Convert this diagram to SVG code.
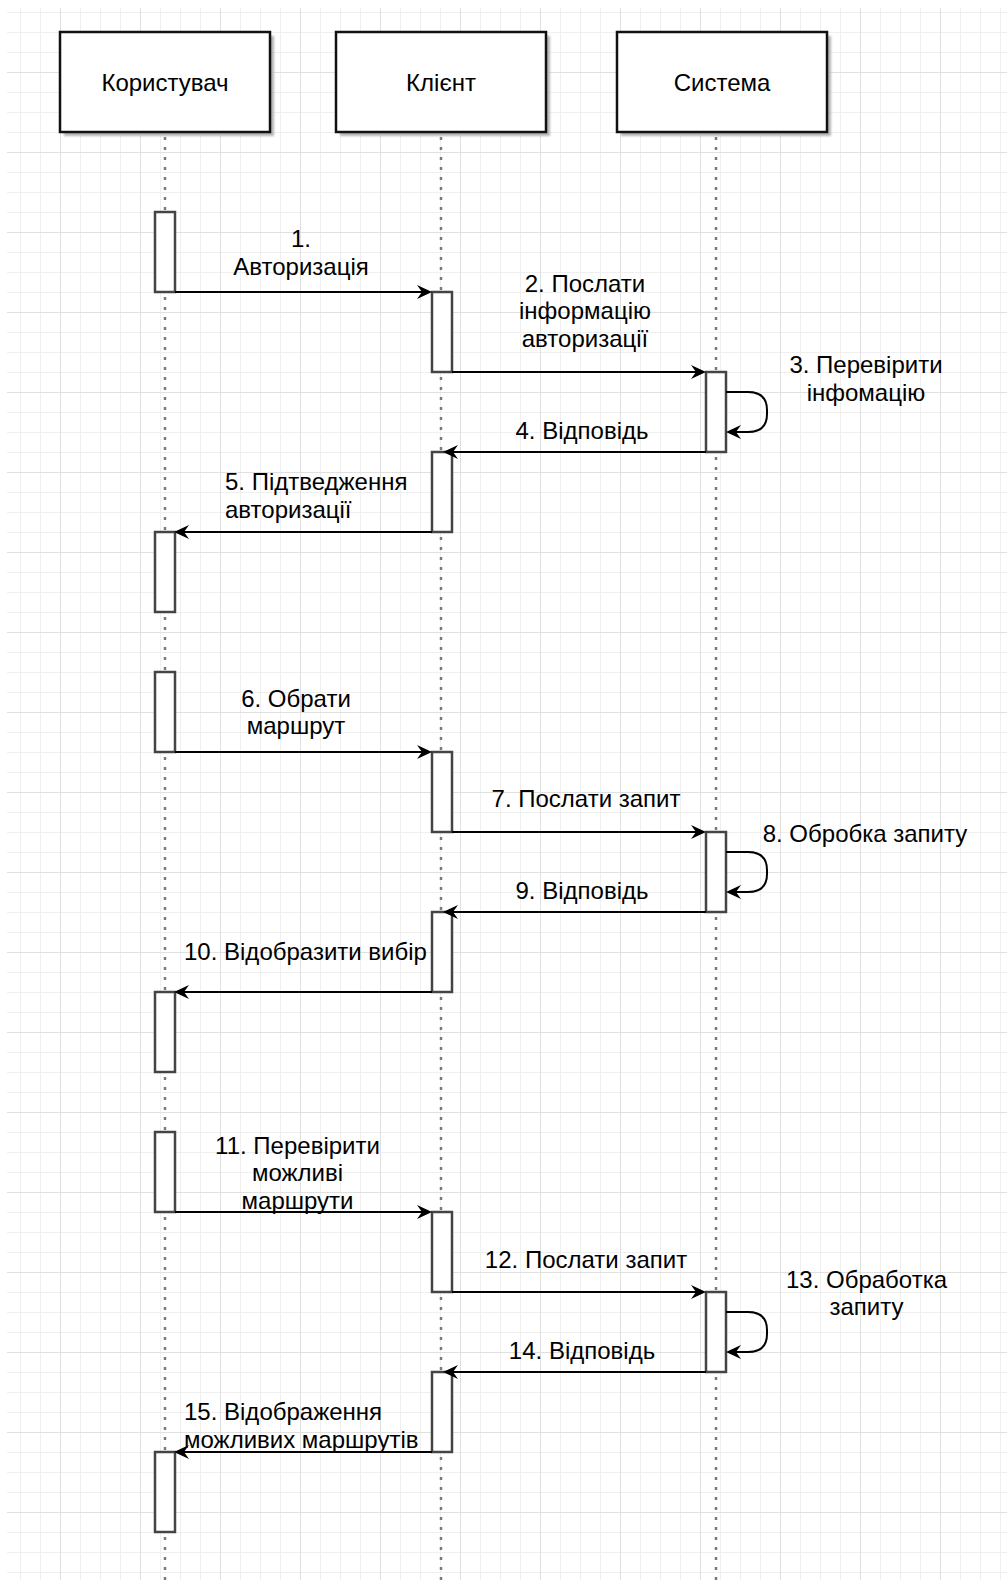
<svg xmlns="http://www.w3.org/2000/svg" width="1007" height="1580" viewBox="0 0 1007 1580">
  <defs>
    <style>
      text { font-family: "Liberation Sans", Arial, Helvetica, sans-serif; font-size: 24px; fill: #000; }
      .mid { text-anchor: middle; }
      .actor { fill: #fff; stroke: #111; stroke-width: 2.5; }
      .shadow { fill: #b4b4b4; filter: url(#soft); }
      .lifeline { stroke: #7a7a7a; stroke-width: 2.5; stroke-dasharray: 3 7; fill: none; }
      .act { fill: #fff; stroke: #444; stroke-width: 2.5; }
      .msg { stroke: #000; stroke-width: 2; fill: none; marker-end: url(#arrow); }
    </style>
    <filter id="soft" x="-5%" y="-5%" width="110%" height="110%">
      <feGaussianBlur stdDeviation="0.8"/>
    </filter>
    <pattern id="gridMinor" patternUnits="userSpaceOnUse" x="0" y="12" width="20" height="20">
      <path d="M0.5 0V20M0 0.5H20" stroke="#efefef" stroke-width="1" fill="none"/>
    </pattern>
    <pattern id="gridMajor" patternUnits="userSpaceOnUse" x="60" y="72" width="80" height="80">
      <path d="M0.5 0V80M0 0.5H80" stroke="#e0e0e0" stroke-width="1" fill="none"/>
    </pattern>
    <marker id="arrow" markerUnits="userSpaceOnUse" viewBox="0 0 15 14" refX="13" refY="7" markerWidth="15" markerHeight="14" orient="auto">
      <path d="M0 0L15 7L0 14L5 7Z" fill="#000"/>
    </marker>
  </defs>

  <!-- canvas grid -->
  <rect x="0" y="0" width="1007" height="1580" fill="#fff"/>
  <rect x="7" y="8" width="1000" height="1572" fill="url(#gridMinor)"/>
  <rect x="7" y="8" width="1000" height="1572" fill="url(#gridMajor)"/>

  <!-- actors with lifelines -->
  <g id="actor-korystuvach">
    <line class="lifeline" x1="165" y1="137" x2="165" y2="1580"/>
    <rect class="shadow" x="64" y="36" width="210" height="100"/>
    <rect class="actor" x="60" y="32" width="210" height="100"/>
    <text class="mid" x="165" y="91">Користувач</text>
  </g>
  <g id="actor-klient">
    <line class="lifeline" x1="441" y1="137" x2="441" y2="1580"/>
    <rect class="shadow" x="340" y="36" width="210" height="100"/>
    <rect class="actor" x="336" y="32" width="210" height="100"/>
    <text class="mid" x="441" y="91">Клієнт</text>
  </g>
  <g id="actor-systema">
    <line class="lifeline" x1="716" y1="137" x2="716" y2="1580"/>
    <rect class="shadow" x="621" y="36" width="210" height="100"/>
    <rect class="actor" x="617" y="32" width="210" height="100"/>
    <text class="mid" x="722" y="91">Система</text>
  </g>

  <!-- activation bars -->
  <g id="act-u1"><rect class="act" x="155" y="212" width="20" height="80"/></g>
  <g id="act-c1"><rect class="act" x="432" y="292" width="20" height="80"/></g>
  <g id="act-s1"><rect class="act" x="706" y="372" width="20" height="80"/></g>
  <g id="act-c2"><rect class="act" x="432" y="452" width="20" height="80"/></g>
  <g id="act-u2"><rect class="act" x="155" y="532" width="20" height="80"/></g>

  <g id="act-u3"><rect class="act" x="155" y="672" width="20" height="80"/></g>
  <g id="act-c3"><rect class="act" x="432" y="752" width="20" height="80"/></g>
  <g id="act-s2"><rect class="act" x="706" y="832" width="20" height="80"/></g>
  <g id="act-c4"><rect class="act" x="432" y="912" width="20" height="80"/></g>
  <g id="act-u4"><rect class="act" x="155" y="992" width="20" height="80"/></g>

  <g id="act-u5"><rect class="act" x="155" y="1132" width="20" height="80"/></g>
  <g id="act-c5"><rect class="act" x="432" y="1212" width="20" height="80"/></g>
  <g id="act-s3"><rect class="act" x="706" y="1292" width="20" height="80"/></g>
  <g id="act-c6"><rect class="act" x="432" y="1372" width="20" height="80"/></g>
  <g id="act-u6"><rect class="act" x="155" y="1452" width="20" height="80"/></g>

  <!-- messages -->
  <g id="connectors">
    <!-- authorisation -->
    <g id="m1">
      <path class="msg" d="M175 292H430"/>
      <text class="mid" x="301" y="247">1.</text>
      <text class="mid" x="301" y="274.5">Авторизація</text>
    </g>
    <g id="m2">
      <path class="msg" d="M452 372H704"/>
      <text class="mid" x="585" y="291.5">2. Послати</text>
      <text class="mid" x="585" y="319">інформацію</text>
      <text class="mid" x="585" y="346.5">авторизації</text>
    </g>
    <g id="m3">
      <path class="msg" d="M726 392H748Q767 392 767 410V414Q767 432 748 432H728"/>
      <text class="mid" x="866" y="373">3. Перевірити</text>
      <text class="mid" x="866" y="400.5">інфомацію</text>
    </g>
    <g id="m4">
      <path class="msg" d="M706 452H445"/>
      <text class="mid" x="582" y="439">4. Відповідь</text>
    </g>
    <g id="m5">
      <path class="msg" d="M432 532H176"/>
      <text x="225" y="490">5. Підтведження</text>
      <text x="225" y="517.5">авторизації</text>
    </g>

    <!-- route selection -->
    <g id="m6">
      <path class="msg" d="M175 752H430"/>
      <text class="mid" x="296" y="706.5">6. Обрати</text>
      <text class="mid" x="296" y="734">маршрут</text>
    </g>
    <g id="m7">
      <path class="msg" d="M452 832H704"/>
      <text class="mid" x="586" y="806.5">7. Послати запит</text>
    </g>
    <g id="m8">
      <path class="msg" d="M726 852H748Q767 852 767 870V874Q767 892 748 892H728"/>
      <text class="mid" x="865" y="842">8. Обробка запиту</text>
    </g>
    <g id="m9">
      <path class="msg" d="M706 912H445"/>
      <text class="mid" x="582" y="899">9. Відповідь</text>
    </g>
    <g id="m10">
      <path class="msg" d="M432 992H176"/>
      <text x="184" y="960">10. Відобразити вибір</text>
    </g>

    <!-- possible routes -->
    <g id="m11">
      <path class="msg" d="M175 1212H430"/>
      <text class="mid" x="297.5" y="1153.5">11. Перевірити</text>
      <text class="mid" x="297.5" y="1181">можливі</text>
      <text class="mid" x="297.5" y="1208.5">маршрути</text>
    </g>
    <g id="m12">
      <path class="msg" d="M452 1292H704"/>
      <text class="mid" x="586" y="1267.5">12. Послати запит</text>
    </g>
    <g id="m13">
      <path class="msg" d="M726 1312H748Q767 1312 767 1330V1334Q767 1352 748 1352H728"/>
      <text class="mid" x="866.5" y="1287.5">13. Обработка</text>
      <text class="mid" x="866.5" y="1315">запиту</text>
    </g>
    <g id="m14">
      <path class="msg" d="M706 1372H445"/>
      <text class="mid" x="582" y="1359">14. Відповідь</text>
    </g>
    <g id="m15">
      <path class="msg" d="M432 1452H176"/>
      <text x="184" y="1420">15. Відображення</text>
      <text x="184" y="1448">можливих маршрутів</text>
    </g>
  </g>
</svg>
